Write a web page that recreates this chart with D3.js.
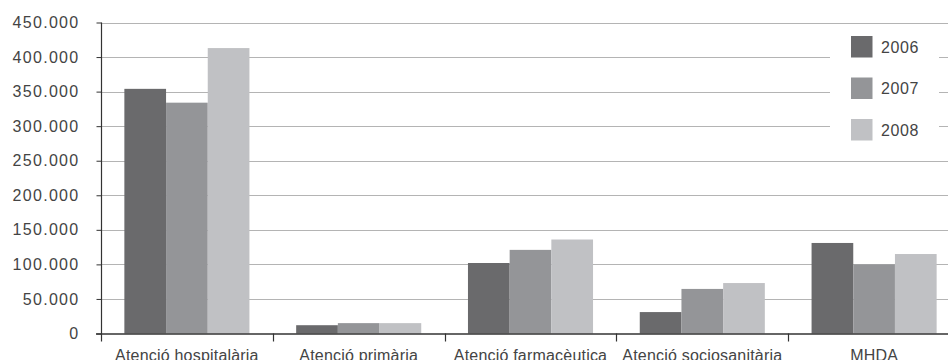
<!DOCTYPE html>
<html>
<head>
<meta charset="utf-8">
<script src="https://cdn.jsdelivr.net/npm/d3@7"></script>
<style>
  html, body { margin: 0; padding: 0; background: #fff; }
  svg { display: block; font-family: "Liberation Sans", Arial, sans-serif; }
</style>
</head>
<body>
<svg id="chart" width="948" height="360"></svg>
<script>
// Despesa per àmbit d'atenció, 2006–2008
const categories = ["Atenció hospitalària", "Atenció primària", "Atenció farmacèutica", "Atenció sociosanitària", "MHDA"];
const years = ["2006", "2007", "2008"];
const values2006 = [354000, 12000, 102000, 31000, 131000];
const values2007 = [334000, 15000, 121000, 64500, 100000];
const values2008 = [413000, 15000, 136000, 73000, 115000];
const yTicks = [0, 50000, 100000, 150000, 200000, 250000, 300000, 350000, 400000, 450000];
const colors = ["#6a6a6c", "#949598", "#c0c1c4"];
const textColor = "#444";

const series = [values2006, values2007, values2008];
const svg = d3.select("#chart");

const locale = d3.formatLocale({ decimal: ",", thousands: ".", grouping: [3], currency: ["", "€"] });
const fmt = locale.format(",d");

const plotLeft = 101, plotRight = 960, plotTop = 22.5, plotBottom = 333.5;

const y = d3.scaleLinear().domain([0, 450000]).range([plotBottom, plotTop]);
const x = d3.scaleBand().domain(categories).range([plotLeft, plotRight]).paddingInner(0.272).paddingOuter(0.136);
const xi = d3.scaleBand().domain(years).range([0, x.bandwidth()]);

// horizontal gridlines
svg.append("g").selectAll("line").data(yTicks.filter(d => d > 0)).join("line")
  .attr("x1", plotLeft).attr("x2", 948)
  .attr("y1", d => Math.round(y(d)) + 0.5).attr("y2", d => Math.round(y(d)) + 0.5)
  .attr("stroke", "#b4b4b4").attr("stroke-width", 1);

// bars
const groups = svg.append("g").selectAll("g").data(categories).join("g")
  .attr("transform", c => `translate(${x(c)},0)`);
groups.selectAll("rect").data((c, i) => years.map((yr, j) => ({ yr, v: series[j][i], j }))).join("rect")
  .attr("x", d => xi(d.yr))
  .attr("width", xi.bandwidth())
  .attr("y", d => y(d.v))
  .attr("height", d => y(0) - y(d.v))
  .attr("fill", d => colors[d.j]);

// y axis
const yAxis = d3.axisLeft(y).tickValues(yTicks).tickSize(5).tickPadding(17).tickFormat(fmt);
const gy = svg.append("g").attr("transform", `translate(${plotLeft + 0.5},0)`).call(yAxis);
gy.select(".domain").remove();
gy.selectAll(".tick line").attr("stroke", "#333");
gy.selectAll(".tick text")
  .attr("fill", textColor).style("font-size", "16px").style("letter-spacing", "1.3px");
gy.attr("font-family", null).attr("font-size", null);
svg.append("line")
  .attr("x1", plotLeft + 0.5).attr("x2", plotLeft + 0.5)
  .attr("y1", plotTop).attr("y2", plotBottom + 8)
  .attr("stroke", "#333").attr("stroke-width", 1.2);

// x axis: baseline, boundary ticks, centred labels
svg.append("line")
  .attr("x1", plotLeft - 5).attr("x2", 948)
  .attr("y1", plotBottom + 0.5).attr("y2", plotBottom + 0.5)
  .attr("stroke", "#333").attr("stroke-width", 1.3);
const step = x.step();
svg.append("g").selectAll("line").data(d3.range(1, categories.length + 1)).join("line")
  .attr("x1", i => Math.round(plotLeft + i * step) + 0.5).attr("x2", i => Math.round(plotLeft + i * step) + 0.5)
  .attr("y1", plotBottom).attr("y2", plotBottom + 8)
  .attr("stroke", "#333").attr("stroke-width", 1.2);
svg.append("g").selectAll("text").data(categories).join("text")
  .attr("x", c => x(c) + x.bandwidth() / 2)
  .attr("y", 361)
  .attr("text-anchor", "middle")
  .attr("fill", textColor)
  .style("font-size", "16px").style("letter-spacing", "0.2px")
  .text(c => c);

// legend
const lg = svg.append("g");
lg.append("rect").attr("x", 830).attr("y", 30).attr("width", 109).attr("height", 120).attr("fill", "#fff");
const items = lg.selectAll("g").data(years).join("g")
  .attr("transform", (d, i) => `translate(851,${36 + i * 41.5})`);
items.append("rect").attr("width", 21.5).attr("height", 21.5).attr("fill", (d, i) => colors[i]);
items.append("text").attr("x", 30).attr("y", 16.5)
  .attr("fill", textColor).style("font-size", "16px").style("letter-spacing", "0.6px")
  .text(d => d);
</script>
</body>
</html>
